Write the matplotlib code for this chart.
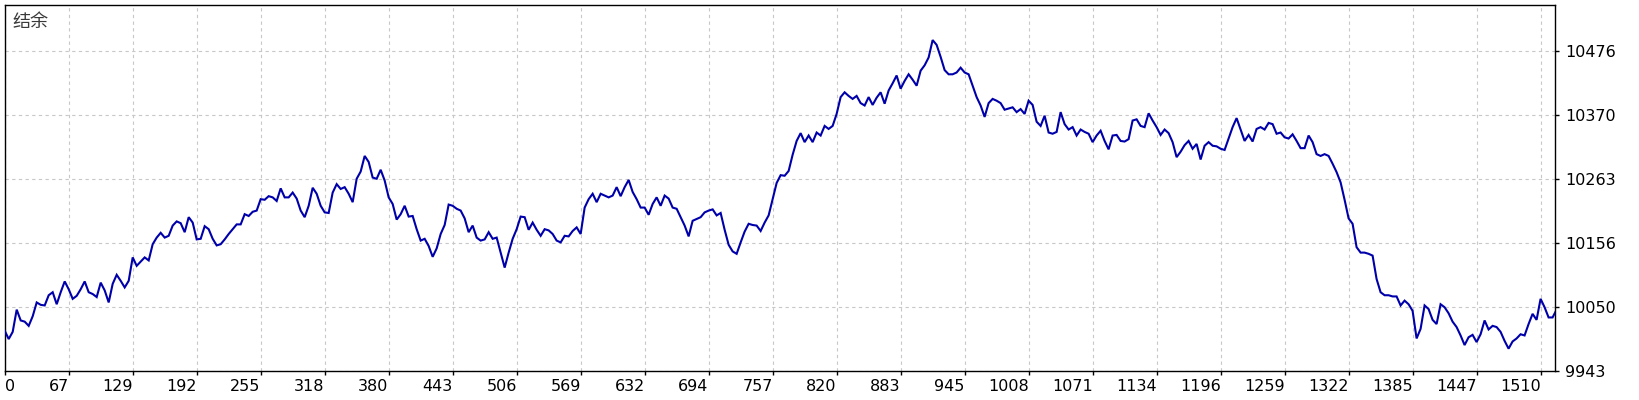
import numpy as np
import matplotlib
matplotlib.use("Agg")
import matplotlib.pyplot as plt

# ---- data (balance, one value every 1/16 of a grid cell) ----
balance = [
    10010, 9996, 10008, 10045, 10027, 10025, 10018, 10034, 10057, 10053, 10052, 10069, 10074, 10054, 10074, 10092,
    10079, 10063, 10068, 10079, 10092, 10074, 10071, 10066, 10090, 10077, 10057, 10088, 10103, 10093, 10082, 10093,
    10132, 10118, 10125, 10132, 10127, 10154, 10165, 10173, 10165, 10168, 10185, 10192, 10189, 10174, 10199, 10190,
    10162, 10163, 10184, 10179, 10163, 10152, 10154, 10162, 10171, 10179, 10187, 10187, 10204, 10201, 10208, 10210,
    10229, 10228, 10234, 10232, 10226, 10247, 10232, 10232, 10240, 10230, 10210, 10199, 10218, 10248, 10238, 10218,
    10207, 10206, 10240, 10254, 10246, 10249, 10238, 10224, 10263, 10275, 10301, 10291, 10265, 10263, 10278, 10260,
    10232, 10221, 10195, 10204, 10218, 10200, 10201, 10179, 10160, 10163, 10151, 10133, 10147, 10171, 10186, 10220,
    10218, 10213, 10210, 10197, 10174, 10185, 10165, 10160, 10162, 10174, 10163, 10165, 10140, 10115, 10140, 10163,
    10179, 10200, 10199, 10178, 10190, 10178, 10168, 10179, 10177, 10171, 10160, 10157, 10168, 10167, 10176, 10182,
    10171, 10215, 10229, 10238, 10224, 10238, 10235, 10232, 10235, 10249, 10234, 10249, 10261, 10241, 10229, 10215,
    10215, 10203, 10221, 10232, 10218, 10235, 10230, 10215, 10213, 10199, 10185, 10167, 10193, 10196, 10199, 10207,
    10210, 10212, 10202, 10206, 10178, 10153, 10142, 10138, 10157, 10175, 10188, 10186, 10185, 10176, 10190, 10202,
    10229, 10256, 10269, 10268, 10276, 10303, 10326, 10339, 10324, 10335, 10324, 10340, 10335, 10351, 10346, 10351,
    10371, 10399, 10407, 10401, 10396, 10401, 10389, 10385, 10399, 10386, 10398, 10407, 10388, 10410, 10422, 10435,
    10413, 10426, 10437, 10428, 10418, 10443, 10452, 10465, 10494, 10486, 10466, 10444, 10437, 10437, 10440, 10448,
    10440, 10437, 10418, 10399, 10385, 10366, 10389, 10396, 10393, 10389, 10378, 10380, 10382, 10374, 10379, 10371,
    10393, 10386, 10358, 10351, 10368, 10340, 10338, 10341, 10374, 10354, 10345, 10349, 10335, 10345, 10341, 10338,
    10324, 10335, 10343, 10326, 10312, 10335, 10336, 10326, 10325, 10329, 10360, 10362, 10351, 10349, 10372, 10360,
    10349, 10336, 10345, 10339, 10324, 10299, 10308, 10319, 10326, 10313, 10321, 10295, 10318, 10324, 10318, 10317,
    10313, 10311, 10330, 10349, 10364, 10345, 10326, 10336, 10325, 10346, 10349, 10345, 10356, 10354, 10338, 10340,
    10332, 10330, 10337, 10326, 10314, 10314, 10335, 10324, 10304, 10301, 10304, 10301, 10288, 10274, 10257, 10228,
    10197, 10188, 10149, 10140, 10140, 10138, 10135, 10096, 10074, 10069, 10069, 10067, 10067, 10052, 10060, 10054,
    10043, 9997, 10013, 10052, 10046, 10028, 10021, 10054, 10049, 10039, 10025, 10016, 10002, 9986, 9999, 10003,
    9991, 10004, 10027, 10012, 10018, 10016, 10008, 9993, 9980, 9992, 9997, 10004, 10002, 10021, 10038, 10028,
    10063, 10049, 10032, 10032, 10045,
]

x_tick_labels = ["0", "67", "129", "192", "255", "318", "380", "443", "506", "569", "632",
                 "694", "757", "820", "883", "945", "1008", "1071", "1134", "1196", "1259",
                 "1322", "1385", "1447", "1510"]
y_tick_labels = ["9943", "10050", "10156", "10263", "10370", "10476"]
chart_title = "结余"

# ---- axis scale ----
X_FIRST = 4.26          # deal number at the left edge
X_TICK_STEP = 62.74     # deals per grid cell
SAMPLES_PER_CELL = 16
X_CELLS = 24.23
Y_MIN = 9943.3
Y_TICK_STEP = 106.6
Y_CELLS = 366 / 64

trades = X_FIRST + np.arange(len(balance)) * X_TICK_STEP / SAMPLES_PER_CELL

W, H = 1640, 400
fig = plt.figure(figsize=(W / 100, H / 100), dpi=100)
fig.patch.set_facecolor("white")
ax = fig.add_axes([4.7 / W, 29.3 / H, 1550.6 / W, 366 / H])

ax.plot(trades, balance, color="#0000AA", linewidth=1.5, solid_joinstyle="miter", zorder=3)

ax.set_xlim(X_FIRST, X_FIRST + X_CELLS * X_TICK_STEP)
ax.set_ylim(Y_MIN, Y_MIN + Y_CELLS * Y_TICK_STEP)

xt = [X_FIRST + k * X_TICK_STEP for k in range(len(x_tick_labels))]
yt = [Y_MIN + k * Y_TICK_STEP for k in range(len(y_tick_labels))]
ax.set_xticks(xt)
ax.set_xticklabels(x_tick_labels)
ax.set_yticks(yt)
ax.set_yticklabels(y_tick_labels)
ax.yaxis.tick_right()

for lbl in ax.get_xticklabels():
    lbl.set_horizontalalignment("right")
ax.get_xticklabels()[0].set_horizontalalignment("left")

ax.tick_params(axis="both", direction="out", length=3, width=1, color="black",
               labelsize=11.5, labelcolor="black")
ax.tick_params(axis="x", pad=3)
ax.tick_params(axis="y", pad=4)

ax.grid(True, color="#C8C8C8", linestyle=(0, (3, 3)), linewidth=0.8, zorder=0)
for s in ax.spines.values():
    s.set_color("black")
    s.set_linewidth(1.0)

ax.text(0.005, 0.978, chart_title, transform=ax.transAxes, ha="left", va="top",
        fontsize=13, color="#3a3a3a", family=["Noto Sans CJK SC", "DejaVu Sans"])

fig.savefig("out.png", dpi=100, facecolor="white")
